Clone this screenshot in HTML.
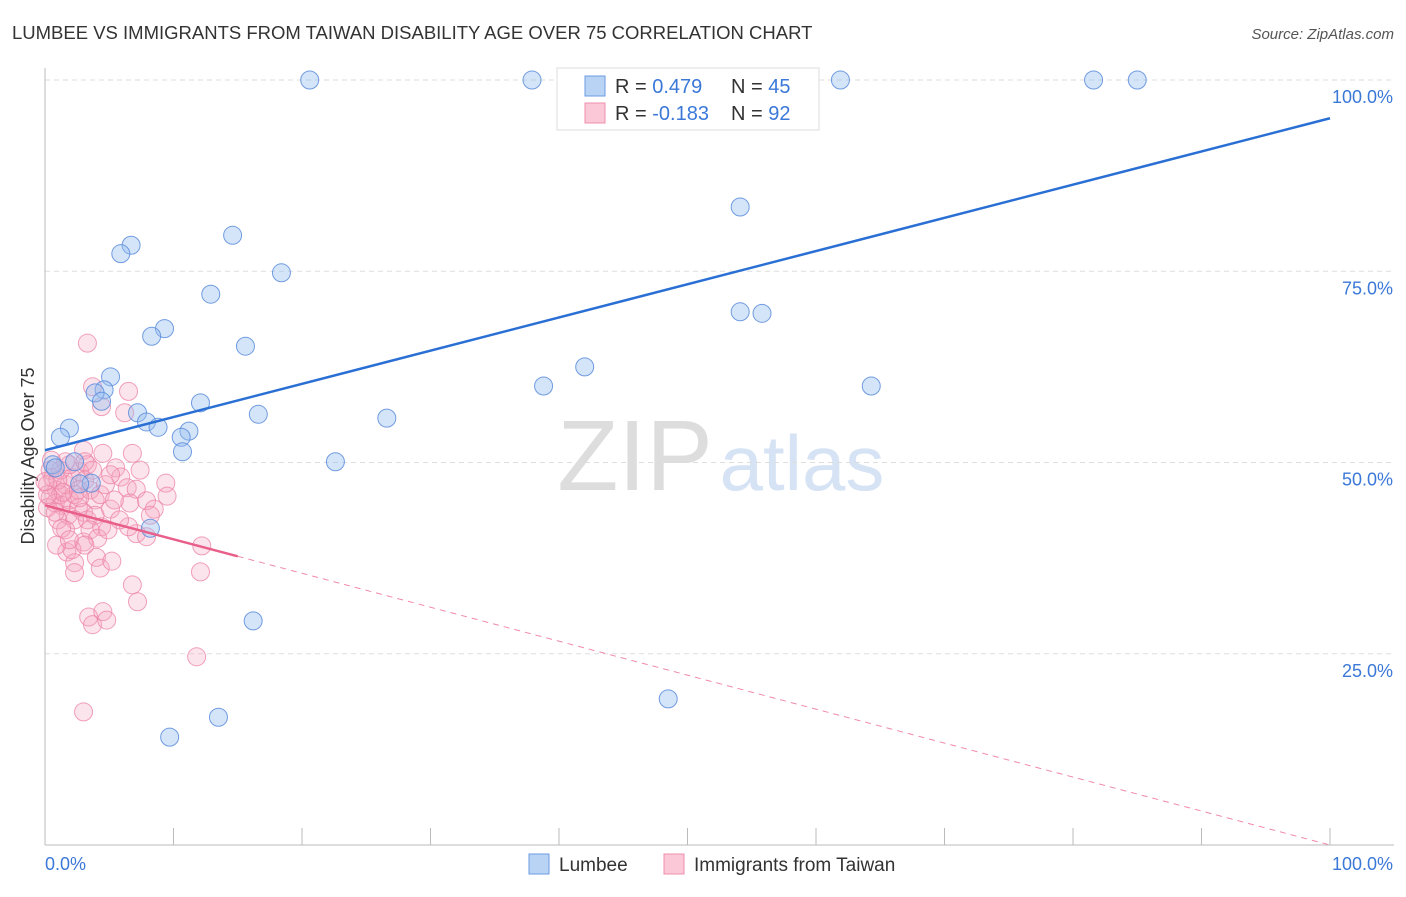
<!DOCTYPE html>
<html><head><meta charset="utf-8"><style>
body{margin:0;background:#fff;font-family:"Liberation Sans",sans-serif;}
svg text{font-family:"Liberation Sans",sans-serif;}
</style></head><body>
<svg id="c" width="1406" height="892" xmlns="http://www.w3.org/2000/svg">
<text x="12" y="39" font-size="18.5" fill="#333">LUMBEE VS IMMIGRANTS FROM TAIWAN DISABILITY AGE OVER 75 CORRELATION CHART</text>
<text x="1394" y="39" font-size="15" fill="#555" font-style="italic" text-anchor="end">Source: ZipAtlas.com</text>
<text x="34" y="456" font-size="18" fill="#333" text-anchor="middle" transform="rotate(-90 34 456)">Disability Age Over 75</text>
<g>
<text x="635" y="490" font-size="100" fill="#ddd" font-family="Liberation Serif" text-anchor="middle">ZIP</text>
<text x="802" y="490" font-size="78" fill="#d6e3f5" text-anchor="middle">atlas</text>
</g>
<g id="grid"></g><g id="axes"></g><g id="pts"></g><g id="lines"></g>
<g>
<rect x="557" y="68" width="262" height="62" fill="#fff" stroke="#ddd"/>
<rect x="585" y="76" width="20" height="20" fill="#b9d3f5" stroke="#6a9be0"/>
<rect x="585" y="103" width="20" height="20" fill="#fbc8d8" stroke="#ef8fae"/>
<text x="615" y="93" font-size="20" fill="#333">R = <tspan fill="#3b78d8">0.479</tspan><tspan x="731">N = </tspan><tspan fill="#3b78d8">45</tspan></text>
<text x="615" y="120" font-size="20" fill="#333">R = <tspan fill="#3b78d8">-0.183</tspan><tspan x="731">N = </tspan><tspan fill="#3b78d8">92</tspan></text>
</g>
<g>
<rect x="529" y="854" width="20" height="20" fill="#b9d3f5" stroke="#6a9be0"/>
<text x="559" y="871" font-size="19" fill="#333">Lumbee</text>
<rect x="664" y="854" width="20" height="20" fill="#fbc8d8" stroke="#ef8fae"/>
<text x="694" y="871" font-size="19" fill="#333">Immigrants from Taiwan</text>
</g>
</svg>
<script>
const yTicks=[25,50,75,100];
const yTickLabels=["25.0%","50.0%","75.0%","100.0%"];
const blueX=[20.6,37.9,61.9,81.6,85.0,54.1,14.6,6.7,5.9,18.4,12.9,9.3,8.3,15.6,54.1,55.8,42.0,38.8,64.3,5.1,4.6,3.9,4.4,12.1,7.2,16.6,26.6,7.9,8.8,1.9,1.2,11.2,10.6,10.7,22.6,0.6,2.3,3.6,8.2,16.2,48.5,13.5,9.7,2.7,0.8];
const blueY=[100,100,100,100,100,83.4,79.7,78.4,77.3,74.8,72.0,67.5,66.5,65.2,69.7,69.5,62.5,60.0,60.0,61.2,59.5,59.1,58.0,57.8,56.5,56.3,55.8,55.3,54.6,54.5,53.3,54.1,53.3,51.4,50.1,49.7,50.1,47.3,41.4,29.3,19.1,16.7,14.1,47.2,49.3];
const pinkX=[3.3,3.7,4.4,6.5,6.2,3.0,4.5,6.8,3.3,5.5,5.9,6.4,7.1,9.4,9.5,6.6,7.9,8.5,8.2,5.1,4.4,3.0,7.1,7.9,6.5,12.2,12.1,1.7,2.3,2.3,4.0,4.3,5.2,6.8,7.2,3.4,3.7,4.5,4.8,11.8,3.0,
0.4,0.6,0.2,0.9,1.2,0.4,0.8,1.3,0.2,1.9,2.3,1.6,2.1,2.7,3.1,3.5,2.6,3.0,1.8,1.0,2.3,3.3,3.9,4.3,4.7,1.2,1.6,0.5,1.9,3.1,3.7,1.0,1.4,2.6,3.9,3.5,1.6,0.8,0.2,2.1,1.3,2.7,5.4,5.8,4.1,5.1,7.4,4.9,0.9,1.9,3.1,0];
const pinkY=[65.6,59.9,57.3,59.3,56.5,51.6,51.2,51.2,49.7,49.3,48.1,46.7,46.5,47.3,45.6,44.7,45.0,43.9,43.1,43.9,41.6,39.6,40.7,40.3,41.6,39.1,35.7,38.3,36.9,35.6,37.6,36.2,37.1,34.0,31.8,29.8,28.8,30.5,29.4,24.6,17.4,
49.0,48.0,47.1,46.4,45.8,45.4,44.7,44.4,44.1,45.1,45.8,47.1,48.0,48.8,47.7,46.4,44.1,43.5,43.1,42.5,42.5,42.5,45.1,45.8,47.1,49.0,50.1,50.3,49.7,50.1,49.0,47.7,46.1,46.4,43.1,41.2,41.2,43.5,45.8,38.6,41.4,45.4,45.1,42.5,40.1,48.4,49.0,41.2,39.2,39.9,39.2,47.5];
const blueTrend=[51.6,95.0];
const pinkTrend=[44.4,0];
const pinkSolidEnd=15;
const NS="http://www.w3.org/2000/svg";
const X0=45,X1=1330,Y0=845,Y100=80;
const sx=v=>X0+(X1-X0)*v/100, sy=v=>Y0-(Y0-Y100)*v/100;
function mk(tag,attrs,parent){const e=document.createElementNS(NS,tag);for(const k in attrs)e.setAttribute(k,attrs[k]);document.getElementById(parent).appendChild(e);return e;}
yTicks.forEach((t,i)=>{
 const g=mk('line',{x1:X0,x2:1394,y1:sy(t),y2:sy(t),stroke:'#ddd','stroke-dasharray':'5,4'},'grid');
 
 
 const l=mk('text',{x:1393,y:sy(t)+23,'font-size':18,fill:'#3b78d8','text-anchor':'end'},'axes');
 l.textContent=yTickLabels[i];
 
 
});
const ya=mk('line',{x1:X0,x2:X0,y1:68,y2:845,stroke:'#bbb'},'axes');


const xa=mk('line',{x1:X0,x2:1394,y1:845,y2:845,stroke:'#bbb'},'axes');


for(let i=0;i<=10;i++){const t=mk('line',{x1:sx(i*10),x2:sx(i*10),y1:828,y2:845,stroke:'#bbb'},'axes');
 
 }
const xl0=mk('text',{x:45,y:870,'font-size':18,fill:'#3b78d8'},'axes');xl0.textContent='0.0%';


const xl1=mk('text',{x:1393,y:870,'font-size':18,fill:'#3b78d8','text-anchor':'end'},'axes');xl1.textContent='100.0%';


pinkX.forEach((x,i)=>{const c=mk('circle',{cx:sx(x),cy:sy(pinkY[i]),r:9,fill:'rgba(245,165,192,0.3)',stroke:'rgba(236,130,165,0.75)','stroke-width':1},'pts');
 
 });
blueX.forEach((x,i)=>{const c=mk('circle',{cx:sx(x),cy:sy(blueY[i]),r:9,fill:'rgba(150,190,240,0.4)',stroke:'rgba(90,140,220,0.85)','stroke-width':1},'pts');
 
 });
const bl=mk('line',{x1:sx(0),y1:sy(blueTrend[0]),x2:sx(100),y2:sy(blueTrend[1]),stroke:'#2a6fd4','stroke-width':2.5},'lines');


const pAt=x=>pinkTrend[0]+(pinkTrend[1]-pinkTrend[0])*x/100;
const ps=mk('line',{x1:sx(0),y1:sy(pAt(0)),x2:sx(pinkSolidEnd),y2:sy(pAt(pinkSolidEnd)),stroke:'#e8608a','stroke-width':2.5},'lines');


const pd=mk('line',{x1:sx(pinkSolidEnd),y1:sy(pAt(pinkSolidEnd)),x2:sx(100),y2:sy(pAt(100)),stroke:'#f08aaa','stroke-width':1,'stroke-dasharray':'6,5'},'lines');


</script>
</body></html>
